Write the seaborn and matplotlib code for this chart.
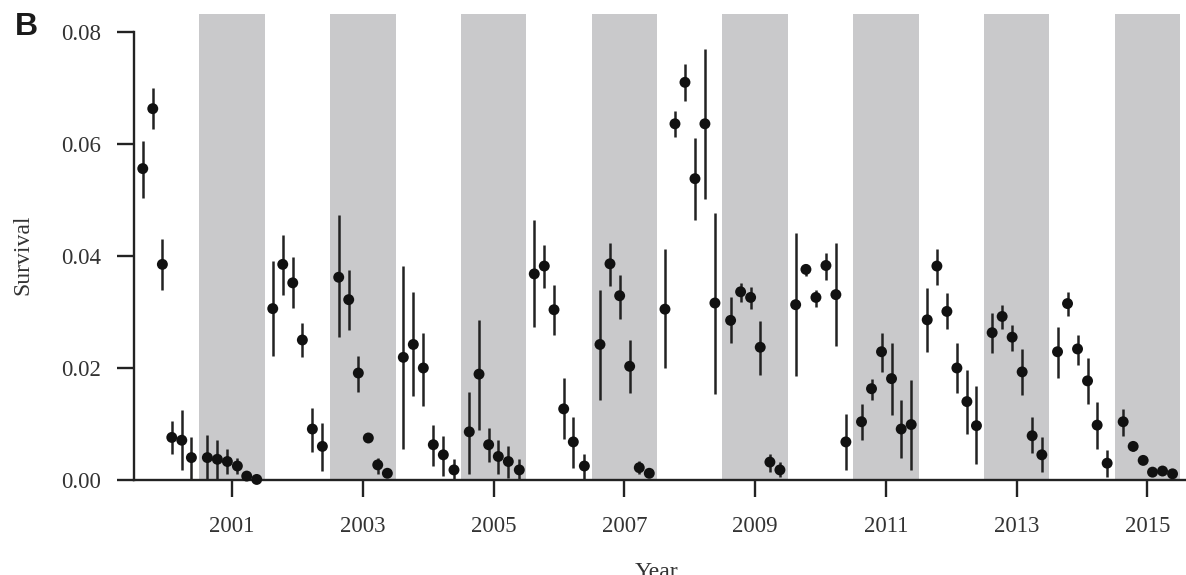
import matplotlib
matplotlib.use("Agg")
import pandas as pd
import matplotlib.pyplot as plt
import seaborn as sns
from matplotlib.ticker import FormatStrFormatter

# sampling dates (decimal year), six per season
time = [1999.634, 1999.787, 1999.934, 2000.078, 2000.231, 2000.378,
        2000.622, 2000.775, 2000.928, 2001.081, 2001.224, 2001.377,
        2001.622, 2001.775, 2001.928, 2002.075, 2002.228, 2002.381,
        2002.631, 2002.784, 2002.931, 2003.084, 2003.228, 2003.375,
        2003.619, 2003.772, 2003.925, 2004.078, 2004.231, 2004.394,
        2004.628, 2004.777, 2004.924, 2005.072, 2005.225, 2005.393,
        2005.622, 2005.775, 2005.924, 2006.072, 2006.219, 2006.388,
        2006.627, 2006.780, 2006.928, 2007.081, 2007.228, 2007.381,
        2007.621, 2007.774, 2007.927, 2008.080, 2008.232, 2008.385,
        2008.625, 2008.778, 2008.931, 2009.078, 2009.226, 2009.379,
        2009.620, 2009.777, 2009.930, 2010.083, 2010.235, 2010.388,
        2010.627, 2010.780, 2010.933, 2011.086, 2011.234, 2011.387,
        2011.632, 2011.780, 2011.933, 2012.086, 2012.239, 2012.385,
        2012.625, 2012.778, 2012.931, 2013.084, 2013.237, 2013.385,
        2013.625, 2013.778, 2013.931, 2014.084, 2014.231, 2014.384,
        2014.629, 2014.782, 2014.935, 2015.078, 2015.231, 2015.384]

survival = [0.0556, 0.0663, 0.0385, 0.0076, 0.0071, 0.0040,
            0.0040, 0.0037, 0.0033, 0.0025, 0.0007, 0.0001,
            0.0306, 0.0385, 0.0352, 0.0250, 0.0091, 0.0060,
            0.0362, 0.0322, 0.0191, 0.0075, 0.0027, 0.0012,
            0.0219, 0.0242, 0.0200, 0.0063, 0.0045, 0.0018,
            0.0086, 0.0189, 0.0063, 0.0042, 0.0033, 0.0018,
            0.0368, 0.0382, 0.0304, 0.0127, 0.0068, 0.0025,
            0.0242, 0.0386, 0.0329, 0.0203, 0.0022, 0.0012,
            0.0305, 0.0636, 0.0710, 0.0538, 0.0636, 0.0316,
            0.0285, 0.0336, 0.0326, 0.0237, 0.0032, 0.0018,
            0.0313, 0.0376, 0.0326, 0.0383, 0.0331, 0.0068,
            0.0104, 0.0163, 0.0229, 0.0181, 0.0091, 0.0099,
            0.0286, 0.0382, 0.0301, 0.0200, 0.0140, 0.0097,
            0.0263, 0.0292, 0.0255, 0.0193, 0.0079, 0.0045,
            0.0229, 0.0315, 0.0234, 0.0177, 0.0098, 0.0030,
            0.0104, 0.0060, 0.0035, 0.0014, 0.0016, 0.0011]

lower = [0.0503, 0.0627, 0.0339, 0.0047, 0.0018, 0.0000,
         0.0000, 0.0000, 0.0011, 0.0010, 0.0003, 0.0000,
         0.0222, 0.0331, 0.0307, 0.0219, 0.0050, 0.0016,
         0.0255, 0.0267, 0.0158, 0.0067, 0.0010, 0.0005,
         0.0056, 0.0150, 0.0132, 0.0025, 0.0007, 0.0000,
         0.0010, 0.0089, 0.0033, 0.0010, 0.0004, 0.0000,
         0.0273, 0.0342, 0.0259, 0.0073, 0.0022, 0.0000,
         0.0143, 0.0347, 0.0288, 0.0155, 0.0010, 0.0005,
         0.0200, 0.0613, 0.0677, 0.0465, 0.0502, 0.0154,
         0.0244, 0.0318, 0.0305, 0.0188, 0.0014, 0.0005,
         0.0185, 0.0364, 0.0309, 0.0357, 0.0239, 0.0017,
         0.0071, 0.0142, 0.0193, 0.0116, 0.0040, 0.0018,
         0.0229, 0.0349, 0.0270, 0.0155, 0.0083, 0.0029,
         0.0226, 0.0270, 0.0231, 0.0152, 0.0049, 0.0014,
         0.0183, 0.0292, 0.0206, 0.0135, 0.0055, 0.0005,
         0.0078, 0.0052, 0.0029, 0.0010, 0.0011, 0.0007]

upper = [0.0605, 0.0700, 0.0431, 0.0106, 0.0125, 0.0076,
         0.0081, 0.0071, 0.0056, 0.0040, 0.0012, 0.0003,
         0.0391, 0.0437, 0.0398, 0.0281, 0.0129, 0.0102,
         0.0474, 0.0375, 0.0221, 0.0083, 0.0040, 0.0018,
         0.0382, 0.0336, 0.0263, 0.0099, 0.0079, 0.0037,
         0.0158, 0.0286, 0.0093, 0.0071, 0.0060, 0.0038,
         0.0464, 0.0419, 0.0349, 0.0183, 0.0112, 0.0047,
         0.0339, 0.0424, 0.0366, 0.0250, 0.0034, 0.0018,
         0.0412, 0.0659, 0.0743, 0.0610, 0.0769, 0.0477,
         0.0326, 0.0351, 0.0345, 0.0283, 0.0047, 0.0032,
         0.0441, 0.0386, 0.0339, 0.0406, 0.0423, 0.0117,
         0.0135, 0.0181, 0.0263, 0.0244, 0.0142, 0.0179,
         0.0342, 0.0412, 0.0334, 0.0244, 0.0196, 0.0167,
         0.0298, 0.0313, 0.0277, 0.0233, 0.0112, 0.0076,
         0.0273, 0.0336, 0.0259, 0.0217, 0.0139, 0.0053,
         0.0127, 0.0068, 0.0041, 0.0018, 0.0021, 0.0015]

# shaded years
band_start = [2000.5, 2002.5, 2004.5, 2006.5, 2008.5, 2010.5, 2012.5, 2014.5]
year_ticks = [2001, 2003, 2005, 2007, 2009, 2011, 2013, 2015]
survival_ticks = [0.00, 0.02, 0.04, 0.06, 0.08]

df = pd.DataFrame({'time': time, 'survival': survival,
                   'lower': lower, 'upper': upper})

sns.set_style("ticks")
plt.rcParams['font.family'] = ['Liberation Serif', 'DejaVu Serif']

fig = plt.figure(figsize=(11.86, 5.75), dpi=100)
ax = fig.add_axes([134 / 1186, 95 / 575, 1052 / 1186, 466 / 575])

for s in band_start:
    ax.axvspan(s, s + 1, color='#c9c9cb', lw=0, zorder=0)

ax.vlines(df['time'], df['lower'], df['upper'], color='#222222', lw=1.8,
          zorder=2, clip_on=False)
sns.scatterplot(data=df, x='time', y='survival', color='#111111', s=62,
                edgecolor='none', zorder=3, ax=ax, clip_on=False, legend=False)

ax.set_xlim(1999.5, 2015.59)
ax.set_ylim(0, 0.0832)
ax.set_xticks(year_ticks)
ax.set_yticks(survival_ticks)
ax.yaxis.set_major_formatter(FormatStrFormatter('%.2f'))

sns.despine(ax=ax)
ax.spines['left'].set_bounds(0, 0.08)
for side in ['left', 'bottom']:
    ax.spines[side].set_linewidth(1.7)
    ax.spines[side].set_color('#222222')

ax.tick_params(axis='both', direction='out', length=12, width=1.7,
               color='#222222', labelsize=16.5, labelcolor='#333333')
ax.tick_params(axis='y', pad=11.5)
ax.tick_params(axis='x', pad=14)

ax.set_ylabel('Survival', fontsize=17, color='#333333')
ax.yaxis.set_label_coords(-0.096, 0.483)
ax.set_xlabel('Year', fontsize=17, color='#333333')
ax.xaxis.set_label_coords(0.497, -0.176)

fig.text(15 / 1186, 1 - 35 / 575, 'B', fontsize=23, fontweight='bold',
         family=['Liberation Sans', 'DejaVu Sans'], color='#1a1a1a',
         va='baseline')

fig.savefig('out.png', dpi=100)
